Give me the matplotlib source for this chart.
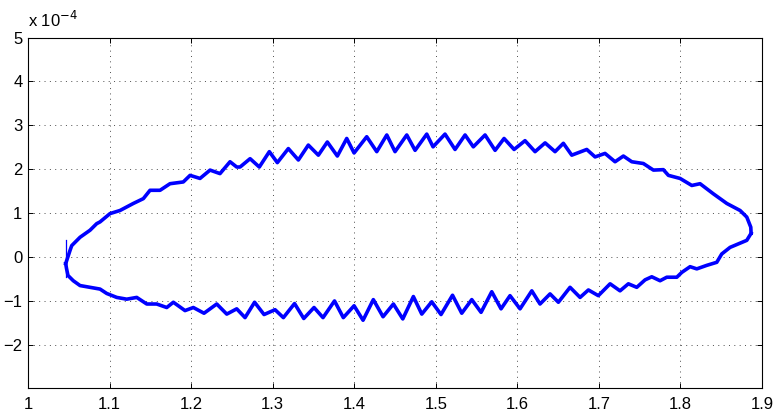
import numpy as np
import matplotlib
matplotlib.use("Agg")
import matplotlib.pyplot as plt

plt.rcParams['font.family'] = ['Liberation Sans', 'DejaVu Sans']

# upper branch, left tip -> right tip (y in units of 1e-4)
upper_x = [1.0462, 1.0515, 1.0536, 1.0638, 1.0760, 1.0842, 1.0883, 1.1006, 1.1128, 1.1291,
           1.1414, 1.1496, 1.1619, 1.1741, 1.1904, 1.1987, 1.2109, 1.2232, 1.2354, 1.2477,
           1.2559, 1.2600, 1.2723, 1.2836, 1.2959, 1.3057, 1.3192, 1.3315, 1.3437, 1.3560,
           1.3670, 1.3793, 1.3908, 1.3998, 1.4153, 1.4276, 1.4399, 1.4500, 1.4644, 1.4746,
           1.4889, 1.4966, 1.5113, 1.5236, 1.5359, 1.5460, 1.5604, 1.5727, 1.5837, 1.5960,
           1.6094, 1.6217, 1.6340, 1.6462, 1.6564, 1.6667, 1.6851, 1.6953, 1.7075, 1.7198,
           1.7300, 1.7403, 1.7545, 1.7668, 1.7790, 1.7852, 1.7995, 1.8139, 1.8240, 1.8403,
           1.8568, 1.8731, 1.8813, 1.8862, 1.8866]
upper_y = [-0.15, 0.15, 0.26, 0.45, 0.61, 0.76, 0.80, 0.99, 1.06, 1.22,
           1.33, 1.52, 1.52, 1.67, 1.71, 1.86, 1.79, 1.98, 1.90, 2.17,
           2.05, 2.05, 2.24, 2.05, 2.40, 2.15, 2.47, 2.21, 2.55, 2.32,
           2.62, 2.30, 2.70, 2.37, 2.74, 2.40, 2.78, 2.40, 2.78, 2.43,
           2.80, 2.51, 2.80, 2.45, 2.78, 2.51, 2.78, 2.43, 2.70, 2.45,
           2.65, 2.40, 2.60, 2.40, 2.59, 2.32, 2.45, 2.28, 2.36, 2.17,
           2.30, 2.17, 2.13, 1.98, 1.99, 1.86, 1.79, 1.63, 1.67, 1.44,
           1.22, 1.06, 0.91, 0.68, 0.54]

# lower branch, right tip -> left tip
lower_x = [1.8866, 1.8813, 1.8608, 1.8506, 1.8445, 1.8322, 1.8200, 1.8118, 1.8016, 1.7955,
           1.7832, 1.7750, 1.7648, 1.7566, 1.7464, 1.7361, 1.7259, 1.7137, 1.6993, 1.6871,
           1.6769, 1.6646, 1.6503, 1.6401, 1.6278, 1.6177, 1.6033, 1.5910, 1.5800, 1.5686,
           1.5555, 1.5441, 1.5318, 1.5205, 1.5064, 1.4950, 1.4828, 1.4725, 1.4595, 1.4480,
           1.4353, 1.4234, 1.4108, 1.3998, 1.3866, 1.3758, 1.3617, 1.3507, 1.3381, 1.3268,
           1.3131, 1.3029, 1.2894, 1.2778, 1.2661, 1.2559, 1.2437, 1.2314, 1.2158, 1.2027,
           1.1925, 1.1782, 1.1701, 1.1578, 1.1456, 1.1333, 1.1210, 1.1088, 1.0965, 1.0883,
           1.0760, 1.0638, 1.0555, 1.0490, 1.0472, 1.0462]
lower_y = [0.54, 0.38, 0.22, 0.07, -0.12, -0.19, -0.27, -0.22, -0.35, -0.46,
           -0.46, -0.54, -0.45, -0.52, -0.69, -0.61, -0.77, -0.61, -0.88, -0.75,
           -0.92, -0.69, -1.03, -0.84, -1.07, -0.77, -1.18, -0.88, -1.18, -0.79,
           -1.26, -0.97, -1.28, -0.87, -1.31, -1.02, -1.30, -0.90, -1.41, -1.07,
           -1.36, -0.97, -1.44, -1.11, -1.38, -1.00, -1.38, -1.15, -1.40, -1.06,
           -1.38, -1.20, -1.31, -1.03, -1.38, -1.18, -1.30, -1.07, -1.28, -1.15,
           -1.22, -1.03, -1.15, -1.07, -1.07, -0.92, -0.96, -0.92, -0.83, -0.73,
           -0.69, -0.65, -0.54, -0.42, -0.26, -0.15]

# start-up transient at the left tip
spike_x = [1.0462, 1.0462]
spike_y = [0.38, -0.45]

x_ticks = [1, 1.1, 1.2, 1.3, 1.4, 1.5, 1.6, 1.7, 1.8, 1.9]
y_ticks = [-2, -1, 0, 1, 2, 3, 4, 5]

fig = plt.figure(figsize=(7.76, 4.13), dpi=100)
ax = fig.add_axes([0.0361, 0.0598, 0.9459, 0.8494])

ax.plot(upper_x, upper_y, color='#0000ff', linewidth=2.6, solid_joinstyle='round')
ax.plot(lower_x, lower_y, color='#0000ff', linewidth=2.6, solid_joinstyle='round')
ax.plot(spike_x, spike_y, color='#0000ff', linewidth=0.9)

ax.set_xlim(1, 1.9)
ax.set_ylim(-2.99, 5)
ax.set_xticks(x_ticks)
ax.set_xticklabels([f"{t:g}" for t in x_ticks])
ax.set_yticks(y_ticks)
ax.set_yticklabels([f"{t:d}".replace('-', '\u2212') for t in y_ticks])

ax.grid(True, color='0.3', linestyle=(0, (1, 4.5)), linewidth=0.7)
ax.tick_params(direction='in', length=3.5, width=0.7, top=True, right=True,
               labelsize=12, colors='black')
ax.tick_params(axis='x', pad=6)
ax.tick_params(axis='y', pad=4)
for s in ax.spines.values():
    s.set_linewidth(0.8)
    s.set_color('black')

ax.text(0.0, 1.02, r'x 10$^{-4}$', transform=ax.transAxes, ha='left', va='bottom',
        fontsize=12)

fig.savefig('out.png', dpi=100)
